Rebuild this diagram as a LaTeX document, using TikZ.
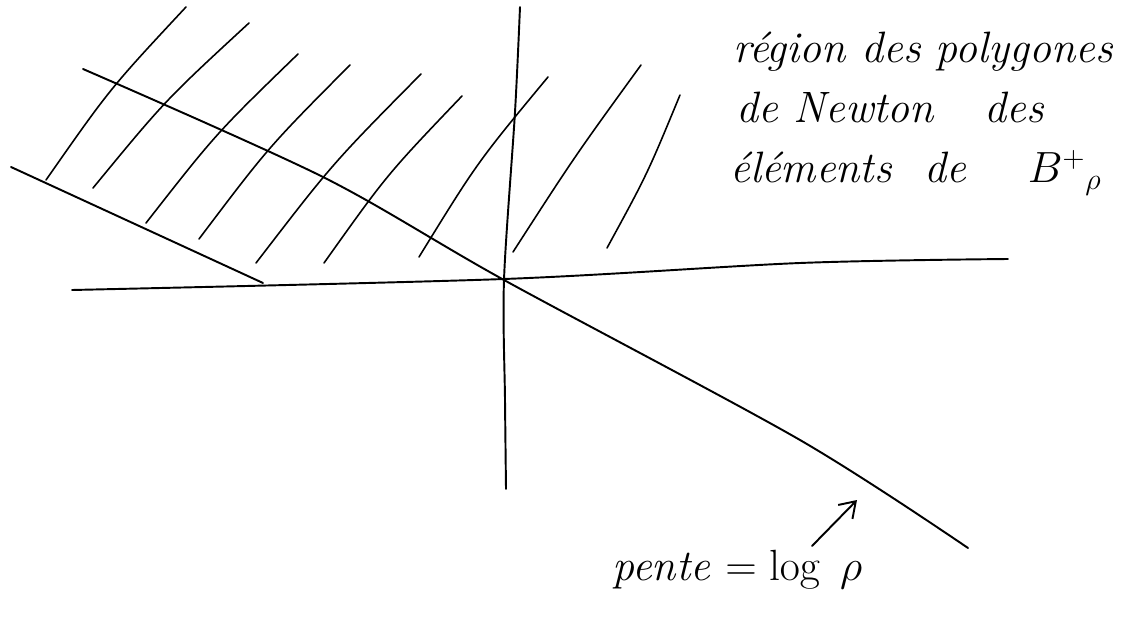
\documentclass[tikz,border=0pt]{standalone}
\usetikzlibrary{arrows.meta,calc}
\tikzset{
  pen/.style={line width=1.1pt,line cap=round,line join=round},
  hatchline/.style={pen,line width=0.9pt},
  hand/.style={font=\fontsize{25}{30}\selectfont\itshape,inner sep=0pt,anchor=base west}
}
\begin{document}
\begin{tikzpicture}[x=0.02cm,y=-0.02cm]
  \useasboundingbox (0,0) rectangle (1122,628);
  % Axes
  \draw[pen] plot[smooth] coordinates {(72,290) (504,279) (800,263) (1008,259)};
  \draw[pen] plot[smooth] coordinates {(520,7) (515,112) (504,280) (505,400) (506,489)};
  % Line of slope log rho through the origin
  \draw[pen] plot[smooth] coordinates {(83,69) (323,177) (504,280) (800,440) (968,548)};
  % Left edge of the region
  \draw[pen] (11,167) -- (263,283);
  % Hatching (last value: how much the stroke bows)
  \foreach \xa/\ya/\xb/\yb/\bw in {46/180/186/7/1, 93/188/249/23/1, 146/223/298/54/1, 199/239/350/65/1,
      256/263/421/74/1, 324/263/462/96/1, 419/257/548/77/1, 513/252/641/65/0.4, 607/248/680/95/-0.6}
    \draw[hatchline] (\xa,\ya) .. controls ($(\xa,\ya)!0.5!(\xb,\yb)+(-6*\bw,-5*\bw)$) .. (\xb,\yb);
  % Labels
  \node[hand] (region1) at (733,63) {région des polygones};
  \node[hand] (region2) at (736,123) {de Newton\hspace{0.8em} des};
  \node[hand] (region3) at (730,183) {éléments\hspace{0.4em} de\hspace{1.4em}$B^{+}{}_{\rho}$};
  \node[hand] (pente) at (612,580) {pente $=\log\;\rho$};
  \coordinate (tail) at (812,546);
  \coordinate (tip) at (857,500);
  \draw[pen,-{Straight Barb[length=3mm,width=4mm]}] (tail) -- (tip);
\end{tikzpicture}
\end{document}
